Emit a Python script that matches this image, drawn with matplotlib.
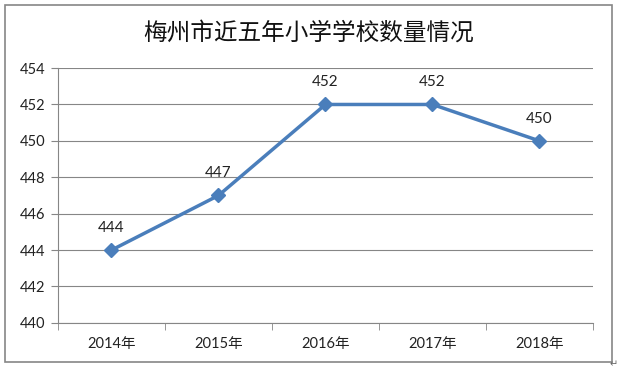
import matplotlib
matplotlib.use("Agg")
import numpy as np
from matplotlib import pyplot as plt
from matplotlib.patches import Rectangle

# データ
years = ['2014年', '2015年', '2016年', '2017年', '2018年']
counts = [444, 447, 452, 452, 450]
yticks = [440, 442, 444, 446, 448, 450, 452, 454]

plt.rcParams['font.family'] = ['Lato', 'Noto Sans CJK SC', 'DejaVu Sans']

fig = plt.figure(figsize=(6.17, 3.72), dpi=100)
ax = fig.add_axes([0.094, 0.132, 0.867, 0.685])

x = np.arange(len(years))
ax.plot(x, counts, color='#4A7EBB', lw=2.5, marker='D', ms=7.5,
        markerfacecolor='#4A7EBB', markeredgecolor='#4A7EBB', zorder=3)
for xi, v in zip(x, counts):
    ax.annotate(str(v), (xi, v), xytext=(0, 11), textcoords='offset points',
                ha='center', va='bottom', fontsize=11, color='#222222')

ax.set_xlim(-0.5, len(years) - 0.5)
ax.set_ylim(440, 454)
ax.set_yticks(yticks)
ax.set_xticks(x)
ax.set_xticklabels(years)
ax.set_xticks(np.arange(-0.5, len(years)), minor=True)
ax.tick_params(axis='x', which='major', length=0, pad=10, labelsize=10.5, labelcolor='#222222')
ax.tick_params(axis='x', which='minor', length=5, color='#868686', direction='out')
ax.tick_params(axis='y', length=5, color='#868686', labelsize=10.5, labelcolor='#222222', pad=4)
ax.grid(axis='y', color='#868686', lw=0.8)
ax.set_axisbelow(True)
for s in ['top', 'right']:
    ax.spines[s].set_visible(False)
for s in ['left', 'bottom']:
    ax.spines[s].set_color('#868686')
    ax.spines[s].set_linewidth(0.8)

fig.text(0.5, 0.91, '梅州市近五年小学学校数量情况', ha='center', va='center',
         fontsize=17, family=['Noto Sans CJK SC'], color='#111111')

# 外枠
fig.patches.append(Rectangle((5 / 617, 1 - 362 / 372), 607 / 617, 357 / 372,
                             transform=fig.transFigure, fill=False,
                             edgecolor='#868686', lw=1.2))
fig.text(614 / 617, 1 - 364 / 372, '↵', ha='center', va='center', fontsize=7,
         color='#666666', family=['DejaVu Sans'])

fig.savefig('out.png', dpi=100)
